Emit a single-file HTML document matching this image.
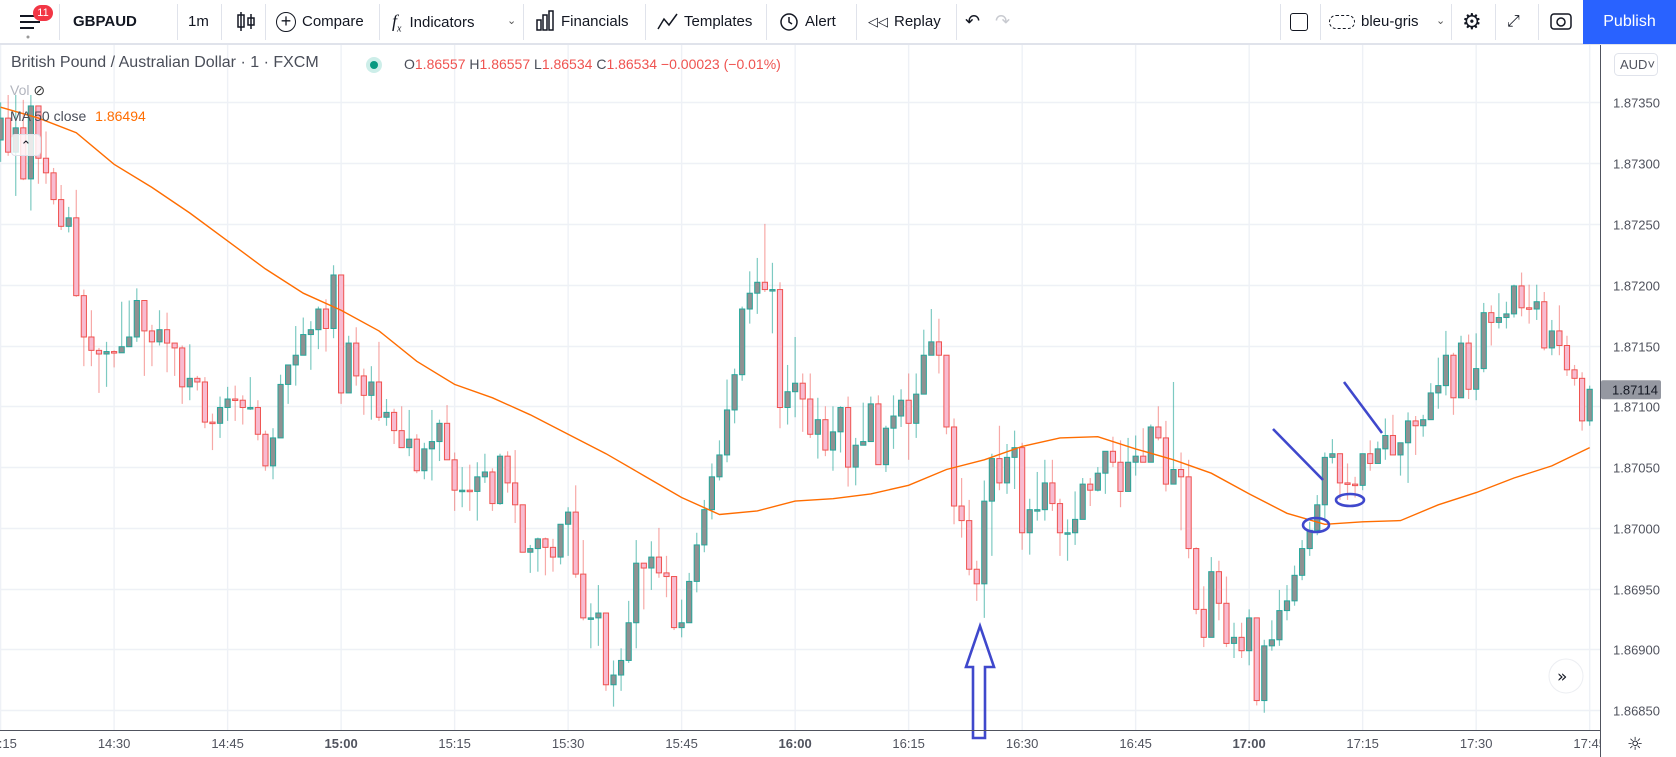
<!DOCTYPE html>
<html><head><meta charset="utf-8"><style>
*{box-sizing:border-box;margin:0;padding:0}
body{width:1676px;height:757px;overflow:hidden;background:#fff;font-family:"Liberation Sans",sans-serif;color:#131722;position:relative}
#toolbar{position:absolute;left:0;top:0;width:1676px;height:45px;background:#fff;border-bottom:2px solid #e0e3eb;z-index:3}
.tb{position:absolute;top:0;height:43px;line-height:43px;font-size:15px;color:#131722;white-space:nowrap}
.sep{position:absolute;top:4px;width:1px;height:36px;background:#e0e3eb}
#publish{position:absolute;left:1583px;top:0;width:93px;height:44px;background:#2962ff;color:#fff;font-size:16px;line-height:44px;text-align:center}
.leg{position:absolute;white-space:nowrap;z-index:2}
#chart{position:absolute;left:0;top:0}
</style></head><body>
<div id="toolbar">
  <div class="tb" style="left:18px">
    <svg width="24" height="43"><g stroke="#131722" stroke-width="2"><line x1="2" y1="16" x2="22" y2="16"/><line x1="2" y1="22" x2="22" y2="22"/><line x1="2" y1="28" x2="16" y2="28"/></g><circle cx="10" cy="37" r="1.5" fill="#999"/></svg>
  </div>
  <div style="position:absolute;left:33px;top:5px;width:20px;height:16px;border-radius:8px;background:#f23645;color:#fff;font-size:11px;line-height:16px;text-align:center">11</div>
  <div class="sep" style="left:59px"></div>
  <div class="tb" style="left:73px;font-weight:bold">GBPAUD</div>
  <div class="sep" style="left:177px"></div>
  <div class="tb" style="left:188px">1m</div>
  <div class="sep" style="left:221px"></div>
  <div class="tb" style="left:235px"><svg width="22" height="43"><g stroke="#131722" stroke-width="1.5" fill="none"><line x1="6" y1="12" x2="6" y2="31"/><rect x="3" y="15" width="6" height="12"/><line x1="16" y1="14" x2="16" y2="29"/><rect x="13" y="18" width="6" height="7"/></g></svg></div>
  <div class="sep" style="left:265px"></div>
  <div class="tb" style="left:276px"><span style="display:inline-block;width:20px;height:20px;border:1.5px solid #131722;border-radius:50%;text-align:center;line-height:17px;font-size:18px;vertical-align:middle;margin-right:6px">+</span>Compare</div>
  <div class="sep" style="left:379px"></div>
  <div class="tb" style="left:392px"><span style="font-family:'Liberation Serif',serif;font-style:italic;font-size:18px;margin-right:8px">f<sub style="font-size:10px">x</sub></span>Indicators</div>
  <div class="tb" style="left:507px;font-size:11px;color:#555">&#8964;</div>
  <div class="sep" style="left:523px"></div>
  <div class="tb" style="left:535px"><svg width="20" height="43" style="vertical-align:top;margin-right:6px"><g stroke="#131722" stroke-width="1.5" fill="none"><rect x="2" y="20" width="4" height="10"/><rect x="8" y="15" width="4" height="15"/><rect x="14" y="11" width="4" height="19"/></g></svg>Financials</div>
  <div class="sep" style="left:645px"></div>
  <div class="tb" style="left:657px"><svg width="22" height="43" style="vertical-align:top;margin-right:5px"><polyline points="1,29 7,19 12,25 20,14" stroke="#131722" stroke-width="1.5" fill="none"/></svg>Templates</div>
  <div class="sep" style="left:766px"></div>
  <div class="tb" style="left:778px"><svg width="22" height="43" style="vertical-align:top;margin-right:5px"><circle cx="11" cy="22" r="8" stroke="#131722" stroke-width="1.5" fill="none"/><polyline points="11,17 11,22 14,24" stroke="#131722" stroke-width="1.5" fill="none"/></svg>Alert</div>
  <div class="sep" style="left:856px"></div>
  <div class="tb" style="left:868px"><span style="font-size:13px;margin-right:6px">&#9665;&#9665;</span>Replay</div>
  <div class="sep" style="left:956px"></div>
  <div class="tb" style="left:965px;font-size:18px">&#8630;</div>
  <div class="tb" style="left:995px;font-size:18px;color:#c8cad0">&#8631;</div>
  <div class="sep" style="left:1280px"></div>
  <div class="tb" style="left:1290px"><span style="display:inline-block;width:18px;height:18px;border:1.5px solid #131722;border-radius:3px;vertical-align:middle"></span></div>
  <div class="sep" style="left:1320px"></div>
  <div class="tb" style="left:1329px"><span style="display:inline-block;width:26px;height:14px;border:1.5px dashed #131722;border-radius:8px;vertical-align:middle;margin-right:6px"></span>bleu-gris</div>
  <div class="tb" style="left:1436px;font-size:11px;color:#555">&#8964;</div>
  <div class="sep" style="left:1451px"></div>
  <div class="tb" style="left:1462px;font-size:22px">&#9881;</div>
  <div class="sep" style="left:1495px"></div>
  <div class="tb" style="left:1507px;font-size:16px">&#10530;</div>
  <div class="sep" style="left:1538px"></div>
  <div class="tb" style="left:1549px"><svg width="24" height="43"><rect x="2" y="14" width="20" height="15" rx="3" stroke="#131722" stroke-width="1.5" fill="none"/><circle cx="12" cy="22" r="4" stroke="#131722" stroke-width="1.5" fill="none"/></svg></div>
  <div id="publish">Publish</div>
</div>

<div class="leg" style="left:11px;top:54px;font-size:16px;color:#4a4e59">British Pound / Australian Dollar · 1 · FXCM</div>
<div class="leg" style="left:366px;top:57px;width:16px;height:16px;border-radius:50%;background:#cdeee9"><div style="margin:4px;width:8px;height:8px;border-radius:50%;background:#089981"></div></div>
<div class="leg" style="left:404px;top:56px;font-size:14px;color:#ef5350"><span style="color:#4a4e59">O</span>1.86557 <span style="color:#4a4e59">H</span>1.86557 <span style="color:#4a4e59">L</span>1.86534 <span style="color:#4a4e59">C</span>1.86534 −0.00023 (−0.01%)</div>
<div class="leg" style="left:10px;top:82px;font-size:14px;color:#b2b5be">Vol <span style="font-size:14px;color:#333">&#8856;</span></div>
<div class="leg" style="left:10px;top:108px;font-size:14px;color:#4a4e59">MA 50 close <span style="color:#ff6d00;margin-left:5px">1.86494</span></div>
<div class="leg" style="left:11px;top:134px;width:30px;height:22px;border:1px solid #e0e3eb;border-radius:4px;background:rgba(255,255,255,0.8);text-align:center;font-size:13px;line-height:22px">&#8963;</div>

<svg id="chart" width="1676" height="757">
  <defs><clipPath id="plot"><rect x="0" y="45" width="1600" height="685"/></clipPath></defs>
  <g id="grid"></g>
  <g id="candles" clip-path="url(#plot)"></g>
  <path id="maLine" fill="none" stroke="#ff6d00" stroke-width="1.4" clip-path="url(#plot)"/>
  <g id="annot" fill="none" stroke="#3f48cc" stroke-width="2.6">
    <path d="M973,738 L985,738 L985,667 L994,667 L980,626 L966,667 L973,667 Z"/>
    <line x1="1273" y1="429" x2="1323" y2="480"/>
    <line x1="1344" y1="382" x2="1382" y2="433"/>
    <ellipse cx="1316" cy="525" rx="13" ry="7"/>
    <ellipse cx="1350" cy="500" rx="14" ry="6"/>
  </g>
  <line x1="1600.5" y1="45" x2="1600.5" y2="757" stroke="#50535e" stroke-width="1"/>
  <line x1="0" y1="730.5" x2="1600" y2="730.5" stroke="#50535e" stroke-width="1"/>
  <g id="yaxis"></g>
  <g id="xaxis"></g>
  <g><rect x="1614.5" y="53.5" width="43" height="22" rx="4" fill="#fff" stroke="#e0e3eb"/><text x="1620" y="69" font-size="13" fill="#50535e" font-family="Liberation Sans, sans-serif">AUD&#709;</text></g>
  <g><circle cx="1566" cy="676" r="17" fill="#fff" stroke="#eceef2"/><text x="1557" y="682" font-size="17" fill="#131722" font-family="DejaVu Sans, sans-serif">&#187;</text></g>
  <text x="1627" y="750" font-size="18" fill="#131722" font-family="DejaVu Sans, sans-serif">&#9788;</text>
</svg>

<script>
// price data in units of 1e-5 (pipettes)
const firstOpen = 187319;
const closes = [187337,187309,187329,187287,187347,187304,187292,187270,187248,187255,
187191,187157,187146,187143,187145,187144,187149,187157,187187,187162,
187153,187163,187152,187148,187116,187123,187120,187087,187086,187099,
187106,187105,187099,187099,187077,187051,187074,187118,187134,187142,
187159,187163,187180,187164,187208,187111,187152,187125,187109,187120,
187091,187095,187080,187066,187073,187047,187065,187071,187086,187056,
187031,187031,187030,187042,187046,187020,187059,187037,187019,186980,
186983,186991,186984,186976,187003,187013,186962,186926,186926,186930,
186871,186879,186891,186922,186971,186967,186976,186963,186960,186918,
186922,186956,186986,187015,187042,187060,187097,187126,187180,187193,
187202,187196,187196,187099,187112,187119,187106,187077,187089,187064,
187079,187099,187050,187068,187071,187102,187052,187082,187092,187105,
187086,187110,187142,187153,187142,187083,187018,187006,186966,186954,
187022,187057,187037,187058,187066,186996,187015,187015,187037,187020,
186996,186996,187007,187036,187031,187045,187063,187054,187030,187054,
187059,187054,187083,187074,187036,187048,187042,186983,186933,186910,
186964,186938,186905,186910,186899,186926,186858,186903,186908,186932,
186940,186961,186983,186998,187019,187058,187061,187037,187036,187035,
187061,187053,187065,187076,187060,187070,187088,187084,187089,187111,
187117,187142,187107,187152,187114,187131,187177,187169,187173,187176,
187199,187181,187180,187186,187148,187162,187150,187130,187123,187088,
187114];
const highs = [187350,187356,187356,187352,187356,187347,187326,187296,187282,187264,
187278,187196,187179,187148,187153,187146,187186,187187,187197,187187,
187167,187179,187177,187152,187150,187151,187125,187124,187094,187108,
187116,187117,187109,187124,187105,187080,187082,187126,187134,187166,
187173,187170,187182,187188,187216,187208,187158,187165,187131,187133,
187153,187106,187098,187100,187097,187077,187070,187097,187089,187101,
187062,187050,187052,187054,187061,187049,187061,187063,187064,187019,
186986,186992,186992,186991,187003,187017,187035,186990,186938,186953,
186930,186891,186901,186940,186990,186971,186989,187000,186977,186960,
186941,186963,186996,187023,187053,187072,187122,187131,187182,187211,
187222,187250,187218,187202,187134,187157,187127,187127,187107,187100,
187100,187100,187108,187074,187103,187108,187109,187084,187109,187114,
187127,187127,187163,187180,187172,187142,187090,187041,187023,186973,
187039,187061,187084,187069,187080,187070,187024,187046,187056,187056,
187024,187007,187030,187041,187041,187050,187063,187075,187072,187074,
187076,187082,187085,187100,187088,187120,187062,187056,186984,186952,
186976,186973,186960,186922,186922,186933,186926,186908,186924,186949,
186953,186969,186990,187005,187027,187062,187073,187061,187053,187042,
187061,187072,187071,187090,187093,187070,187095,187092,187093,187119,
187140,187162,187144,187158,187159,187160,187185,187183,187193,187186,
187200,187210,187200,187200,187194,187171,187183,187158,187134,187128,
187117];
const lows = [187301,187306,187273,187286,187261,187283,187283,187266,187245,187243,
187190,187133,187133,187111,187116,187132,187144,187149,187153,187125,
187133,187150,187128,187125,187102,187105,187113,187082,187064,187074,
187088,187088,187085,187097,187072,187047,187040,187074,187102,187117,
187142,187130,187147,187145,187156,187102,187111,187117,187093,187089,
187088,187084,187069,187066,187059,187045,187040,187039,187055,187056,
187014,187017,187014,187006,187037,187014,187019,187029,187004,186980,
186963,186964,186961,186964,186970,186977,186959,186924,186901,186903,
186866,186853,186866,186889,186901,186933,186949,186959,186943,186916,
186910,186922,186947,186980,187007,187039,187054,187086,187121,187168,
187176,187194,187160,187082,187085,187091,187079,187074,187057,187059,
187047,187062,187034,187035,187068,187071,187052,187046,187065,187083,
187056,187074,187110,187142,187127,187077,187003,186992,186961,186940,
186926,186977,187031,187028,187032,186982,186978,187006,187006,187014,
186977,186973,186986,187007,187018,187030,187028,187050,187017,187043,
187043,187054,187054,187072,187030,187036,186998,186975,186929,186902,
186910,186924,186902,186893,186893,186887,186854,186848,186899,186903,
186924,186936,186957,186977,186994,187006,187053,187023,187023,187025,
187031,187047,187053,187056,187060,187043,187037,187060,187075,187089,
187098,187109,187093,187107,187106,187105,187128,187150,187164,187164,
187173,187174,187168,187171,187146,187142,187142,187125,187117,187080,
187084];
// MA(50) sampled every 5 candles
const maStep = 5;
const maValues = [187346,187337,187325,187299,187280,187259,187236,187213,187193,187179,
187162,187137,187118,187107,187093,187077,187061,187043,187025,187011,
187014,187022,187024,187028,187035,187048,187056,187067,187074,187075,
187065,187056,187045,187028,187012,187003,187005,187006,187019,187029,
187041,187051,187066];
const priceTicks = [187350,187300,187250,187200,187150,187100,187050,187000,186950,186900,186850];
const timeTicks = ["14:15","14:30","14:45","15:00","15:15","15:30","15:45","16:00","16:15","16:30","16:45","17:00","17:15","17:30","17:45"];
const boldTicks = ["15:00","16:00","17:00"];
const minutesPerTick = 15;
const lastPrice = closes[closes.length-1];

const NS = "http://www.w3.org/2000/svg";
const PX_PER_MIN = 7.567;
const xOf = i => 0.6 + i*PX_PER_MIN;
const yOf = v => 102.3 + (187350 - v)*1.216;
function mk(tag, attrs, parent){const e=document.createElementNS(NS,tag);for(const k in attrs)e.setAttribute(k,attrs[k]);parent.appendChild(e);return e;}

const grid = document.getElementById('grid');
const yaxis = document.getElementById('yaxis');
const xaxis = document.getElementById('xaxis');
priceTicks.forEach(p=>{
  const y = Math.round(yOf(p))+0.5;
  const gl = mk('line',{x1:0,x2:1600,y1:y,y2:y,stroke:'#eef1f6','stroke-width':1.4},grid);
  
  
  const t = mk('text',{x:1613,y:y+5,'font-size':13,fill:'#50535e','font-family':'Liberation Sans, sans-serif'},yaxis);
  t.textContent = (p/1e5).toFixed(5);
  
  
});
timeTicks.forEach((lab,k)=>{
  const x = xOf(k*minutesPerTick);
  const gl = mk('line',{x1:x,x2:x,y1:45,y2:730,stroke:'#eef1f6','stroke-width':1.4},grid);
  
  
  const t = mk('text',{x:x,y:748,'font-size':13,'text-anchor':'middle',fill:'#50535e','font-weight':boldTicks.includes(lab)?'bold':'normal','font-family':'Liberation Sans, sans-serif'},xaxis);
  t.textContent = lab;
  
  
});
// cover labels past price axis
mk('rect',{x:1601,y:731,width:75,height:26,fill:'#fff'},xaxis);

const cg = document.getElementById('candles');
closes.forEach((c,i)=>{
  const o = i===0 ? firstOpen : closes[i-1];
  const h = Math.max(highs[i],o,c), l = Math.min(lows[i],o,c);
  const up = c >= o;
  const x = xOf(i);
  const g = mk('g',{},cg);
  
  
  mk('line',{x1:x,x2:x,y1:yOf(h),y2:yOf(l),stroke:up?'rgba(38,166,154,0.6)':'rgba(239,83,80,0.5)','stroke-width':1.2},g);
  const top = yOf(Math.max(o,c)), bot = yOf(Math.min(o,c));
  const hgt = Math.max(1.5, bot-top);
  mk('rect',{x:x-2.6,y:top,width:5.2,height:hgt,fill:up?'#8f9192':'#f8bbd0',stroke:up?'#26a69a':'#ef5350','stroke-width':1},g);
});

let d = '';
maValues.forEach((v,k)=>{ d += (k?'L':'M') + xOf(k*maStep).toFixed(1) + ',' + yOf(v).toFixed(1); });
document.getElementById('maLine').setAttribute('d', d);

// last price label
const ly = yOf(lastPrice);
const lg = mk('g',{},yaxis);


mk('rect',{x:1601,y:ly-9,width:60,height:19,fill:'#9598a1',rx:2},lg);
const lt = mk('text',{x:1612,y:ly+5,'font-size':13,fill:'#131722','font-family':'Liberation Sans, sans-serif'},lg);
lt.textContent = (lastPrice/1e5).toFixed(5);
</script>
</body></html>
